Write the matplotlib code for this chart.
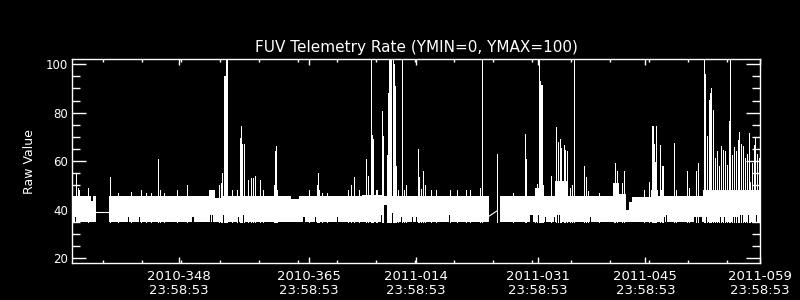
import matplotlib
matplotlib.use("Agg")
import matplotlib.pyplot as plt
import numpy as np

# time axis: days since 2010-001 00:00 (2011 days continue past 365)
x_min, x_max = 333.9992, 423.9992
y_min, y_max = 18, 102
floor = 35

tick_t = [347.9992, 364.9992, 378.9992, 394.9992, 408.9992, 423.9992]
tick_labels = [
    "2010-348\n23:58:53",
    "2010-365\n23:58:53",
    "2011-014\n23:58:53",
    "2011-031\n23:58:53",
    "2011-045\n23:58:53",
    "2011-059\n23:58:53",
]

# dense band of samples: upper envelope between edges (35 = no data)
band_edges = [334.0, 336.5, 336.8, 337.1, 338.84, 351.9, 352.7, 353.6, 360.5,
              361.0, 362.6, 363.7, 372.0, 374.5, 388.5, 389.95, 394.7, 395.7,
              397.2, 398.9, 404.8, 405.5, 406.5, 406.8, 407.2, 409.8, 410.6,
              411.0, 411.5, 416.5, 423.85]
band_top = [45.7, 43.5, 45.5, 35, 45.6, 48.2, 44.7, 45.5, 48.2, 45.6, 44.3,
            45.6, 46.0, 45.6, 35, 45.5, 49, 45.5, 52, 45.5, 51, 46.5, 40, 43,
            45.3, 48, 45.5, 48.2, 45.6, 48]

# individual high samples
spike_t = [334.56, 334.74, 334.87, 336.13, 339.0, 340.06, 341.76, 343.03,
           343.72, 344.33, 345.29, 345.51, 346.07, 347.78, 349.08, 353.23,
           353.45, 353.67, 353.89, 353.97, 354.1, 354.24, 354.89, 355.62,
           356.02, 356.15, 356.28, 356.46, 356.5, 357.07, 357.46, 357.64,
           357.98, 358.63, 359.03, 360.43, 360.56, 360.73, 360.86, 365.05,
           366.09, 366.22, 366.35, 366.75, 367.4, 370.15, 370.54, 370.93,
           371.55, 372.5, 372.72, 373.07, 373.2, 373.42, 373.73, 373.94,
           374.6, 374.73, 375.25, 375.38, 375.51, 375.64, 375.77, 375.95,
           376.08, 376.21, 376.39, 376.65, 377.21, 377.43, 377.65, 379.22,
           379.4, 379.7, 379.92, 380.22, 380.93, 381.66, 383.41, 384.41,
           385.58, 386.03, 387.42, 387.68, 389.64, 391.69, 393.3, 393.43,
           394.53, 394.83, 395.09, 395.27, 395.4, 395.53, 395.66, 396.62,
           397.36, 397.58, 397.8, 398.01, 398.32, 398.45, 398.76, 399.11,
           399.41, 399.67, 400.98, 401.2, 401.5, 402.9, 404.9, 405.08, 405.3,
           405.95, 406.17, 408.79, 409.53, 409.92, 410.05, 410.18, 410.31,
           410.44, 410.96, 411.22, 411.35, 412.79, 413.01, 414.45, 414.68,
           415.63, 415.86, 416.72, 416.85, 417.07, 417.29, 417.42, 417.59,
           417.85, 418.16, 418.38, 418.6, 418.9, 419.12, 419.46, 419.69,
           419.91, 420.12, 420.34, 420.56, 420.86, 421.08, 421.26, 421.52,
           421.74, 422.08, 422.3, 422.53, 422.74, 422.96, 423.18, 423.39,
           423.62, 423.84]
spike_peak = [55.0, 49, 48, 49.1, 53.3, 47, 47.1, 48.2, 47, 47, 61.0, 48.2,
              47, 48.2, 50.2, 50.2, 50.9, 55.1, 95.2, 95.2, 102, 102, 48.2,
              48.2, 69.5, 74.3, 67, 67, 67, 52.3, 53, 53, 54, 52.3, 48.2, 50,
              64.3, 66.3, 48.2, 48.2, 50.2, 55.1, 48, 47, 47, 48.2, 50.2, 53.3,
              48.2, 60.8, 54, 102, 70.9, 69.2, 48.2, 48.2, 80.5, 70.2, 62.6,
              88.3, 102, 102, 102, 102, 100, 90.8, 57.8, 48.2, 102, 48.2, 50.2,
              65, 53.3, 48.5, 56, 50.2, 48, 48, 48, 48, 48, 48, 49, 102, 63,
              47, 71.3, 60.8, 49.1, 50.5, 102, 93.1, 91.5, 91.2, 50.2, 54,
              74.2, 67.8, 69.1, 65.4, 66.5, 64.7, 64, 49, 50.2, 102, 58.1,
              53.3, 47.5, 47, 51, 59.4, 56, 51, 56, 48.2, 51.2, 74.3, 74.3, 67,
              59.5, 74.3, 66.5, 58.1, 58.1, 67.3, 48.2, 56, 49, 56, 59.4, 102,
              96, 70.2, 85.3, 88, 90.1, 81.2, 61.2, 64, 58.1, 66.3, 64.7, 64,
              58.5, 76.4, 102, 62.6, 66, 64, 68.8, 72, 67, 66.3, 61.2, 62.9,
              71.8, 51.2, 59.4, 66.7, 69.5, 63, 61.2]

# places where the low samples stay above the floor: start, width, level
notch_t = [334.39, 334.74, 341.37, 342.8, 349.66, 352.05, 352.35, 353.55,
           354.15, 354.89, 355.76, 356.33, 364.26, 365.79, 368.7, 373.29,
           373.73, 374.46, 374.82, 375.69, 377.0, 377.21, 378.52, 378.96,
           379.35, 383.28, 393.43, 393.88, 394.83, 395.84, 397.06, 397.49,
           401.72, 406.17, 408.79, 410.96, 411.4, 411.71, 412.79, 415.33,
           416.94, 417.59, 418.38, 418.81, 419.26, 420.43, 421.43, 422.3,
           423.39]
notch_w = [0.13, 0.13, 0.13, 0.13, 0.25, 0.13, 0.13, 0.3, 0.2, 0.13, 0.13,
           0.3, 0.25, 0.13, 0.13, 0.13, 0.13, 0.13, 0.35, 0.52, 0.13, 0.13,
           0.13, 0.13, 0.13, 0.13, 0.13, 0.43, 0.66, 0.13, 0.13, 0.52, 0.13,
           0.13, 0.13, 0.13, 0.13, 0.13, 0.13, 1.09, 0.13, 0.13, 0.13, 0.13,
           0.13, 0.79, 0.31, 0.3, 0.22]
notch_top = [36.8, 36.8, 36.8, 36.8, 36.8, 37.9, 37.9, 37.9, 37.9, 36.8, 36.8,
             37.9, 36.8, 36.8, 36.8, 36.8, 37.9, 37.9, 42, 38.5, 36.8, 36.8,
             36.8, 36.8, 36.8, 37.9, 37.9, 37.9, 37.9, 36.8, 36.8, 37.9, 36.8,
             36.8, 36.8, 36.8, 36.8, 37.9, 36.8, 36.8, 36.8, 36.8, 36.8, 36.8,
             36.8, 36.8, 37.9, 37.9, 37.9]

# lines drawn across data gaps
gap1_t, gap1_v = [337.1, 338.84], [39.2, 39.2]
gap2_t, gap2_v = [388.5, 389.6], [37.2, 39.5]

plt.rcParams["font.family"] = "DejaVu Sans"
fig = plt.figure(figsize=(8, 3), dpi=100, facecolor="black")
ax = fig.add_axes([0.09, 0.1233, 0.86, 0.679], facecolor="black")

ax.stairs(band_top, band_edges, baseline=floor, fill=True, color="white",
          linewidth=0, antialiased=False)
ax.vlines(spike_t, floor, spike_peak, color="white", linewidth=0.72,
          antialiased=False)
ax.bar(notch_t, np.array(notch_top) - floor + 0.2, width=notch_w,
       bottom=floor - 0.2, align="edge", color="black", linewidth=0,
       antialiased=False)
ax.plot(gap1_t, gap1_v, color="white", linewidth=0.8)
ax.plot(gap2_t, gap2_v, color="white", linewidth=0.8)

ax.set_xlim(x_min, x_max)
ax.set_ylim(y_min, y_max)

ax.set_xticks(tick_t)
ax.set_xticklabels(tick_labels, fontsize=9.5, color="white", linespacing=1.15)
ax.set_xticks(np.arange(338.1, 424, 5.1), minor=True)
ax.set_yticks([20, 40, 60, 80, 100])
ax.set_yticks(np.arange(20, 101, 5), minor=True)
ax.tick_params(axis="y", which="major", direction="in", length=10, width=1,
               color="white", labelcolor="white", labelsize=8.5, pad=3,
               left=True, right=True)
ax.tick_params(axis="y", which="minor", direction="in", length=5.8, width=1,
               color="white", left=True, right=True)
ax.tick_params(axis="x", which="major", direction="in", length=4.3, width=1,
               color="white", pad=5, bottom=True, top=True)
ax.tick_params(axis="x", which="minor", direction="in", length=2.2, width=1,
               color="white", bottom=True, top=True)
for s in ax.spines.values():
    s.set_color("white")
    s.set_linewidth(1)

ax.set_ylabel("Raw Value", color="white", fontsize=9, labelpad=7)
ax.set_title("FUV Telemetry Rate (YMIN=0, YMAX=100)", color="white",
             fontsize=11, pad=5)

fig.savefig("out.png", dpi=100, facecolor="black")
